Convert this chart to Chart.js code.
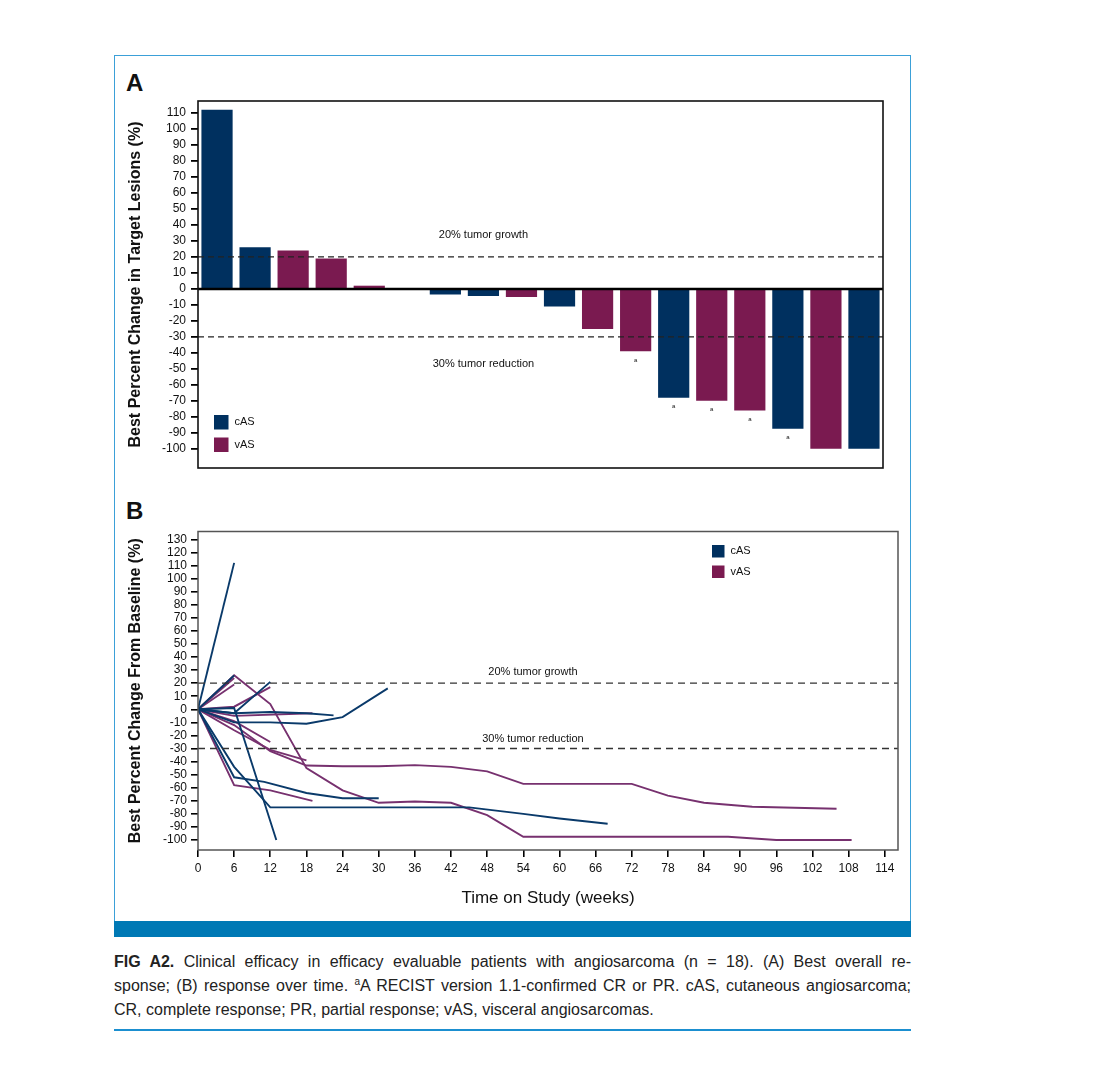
<!DOCTYPE html>
<html><head><meta charset="utf-8">
<script src="https://cdn.jsdelivr.net/npm/chart.js@4.4.1/dist/chart.umd.min.js"></script>
<style>
html,body{margin:0;padding:0;background:#fff;}
body{width:1106px;height:1076px;position:relative;overflow:hidden;font-family:"Liberation Sans",Arial,sans-serif;color:#111;}
.abs{position:absolute;}
#frame{left:114px;top:55px;width:797px;height:866px;border:1px solid #3ba0d8;border-bottom:none;box-sizing:border-box;}
#band{left:114px;top:921px;width:797px;height:16px;background:#0079b5;}
#rule{left:114px;top:1029px;width:797px;height:2px;background:#1b8fd0;}
.panel{font-weight:bold;font-size:24px;line-height:24px;}
#wrapA{left:120px;top:95px;width:770px;height:380px;}
#wrapB{left:120px;top:525px;width:790px;height:392px;}
#caption{left:114px;top:950px;width:797px;font-family:"Liberation Sans",Arial,sans-serif;font-size:16px;line-height:24px;color:#222;}
#caption .ln{white-space:nowrap;text-align:justify;text-align-last:justify;}
#caption .last{white-space:nowrap;}
</style></head>
<body>
<div id="frame" class="abs"></div>
<div id="band" class="abs"></div>
<div class="abs panel" style="left:126px;top:71px;">A</div>
<div class="abs panel" style="left:126px;top:499px;">B</div>
<div id="wrapA" class="abs"><canvas id="chartA"></canvas></div>
<div id="wrapB" class="abs"><canvas id="chartB"></canvas></div>
<div id="caption" class="abs">
<div class="ln"><b>FIG A2.</b> Clinical efficacy in efficacy evaluable patients with angiosarcoma (n = 18). (A) Best overall re-</div>
<div class="ln">sponse; (B) response over time. <sup style="font-size:10px;line-height:0">a</sup>A RECIST version 1.1-confirmed CR or PR. cAS, cutaneous angiosarcoma;</div>
<div class="last">CR, complete response; PR, partial response; vAS, visceral angiosarcomas.</div>
</div>
<div id="rule" class="abs"></div>
<script>
// ---------- Panel A data ----------
const patients = ['1','2','3','4','5','6','7','8','9','10','11','12','13','14','15','16','17','18'];
const bestChange = [112, 26, 24, 19, 2, 0, -3.5, -4.5, -5, -11, -25, -39, -68, -70, -76, -87.5, -100, -100];
const subtype = ['cAS','cAS','vAS','vAS','vAS','vAS','cAS','cAS','vAS','cAS','vAS','vAS','cAS','vAS','vAS','cAS','vAS','cAS'];
const confirmed = [false,false,false,false,false,false,false,false,false,false,false,true,true,true,true,true,false,false];
const yTicksA = [-100,-90,-80,-70,-60,-50,-40,-30,-20,-10,0,10,20,30,40,50,60,70,80,90,100,110];
const thresholds = [20, -30];
const thresholdLabels = ['20% tumor growth', '30% tumor reduction'];

// ---------- Panel B data (weeks, percent change) ----------
const cAS_1 = [[0,0],[6,112]];
const cAS_2 = [[0,0],[6,26]];
const cAS_3 = [[0,0],[6,-3],[12,21]];
const cAS_4 = [[0,0],[6,-3],[12,-2],[18,-3],[22.5,-4.6]];
const cAS_5 = [[0,0],[6,-10],[12,-10],[18,-11],[24,-6],[31.5,16]];
const cAS_6 = [[0,0],[6,-44],[12,-75],[18,-75],[24,-75],[30,-75],[36,-75],[42,-75],[45,-75],[54,-80],[60,-83.5],[68,-87.5]];
const cAS_7 = [[0,0],[6,-52],[11,-55.5],[18,-64],[24,-68],[30,-68]];
const cAS_8 = [[0,0],[6,1],[13,-100]];
const vAS_1 = [[0,0],[6,26],[12,4],[18,-45],[24,-62],[30,-71.5],[36,-70.5],[42,-71.5],[48,-81],[54,-97.5],[88,-97.5],[96,-100],[108.5,-100]];
const vAS_2 = [[0,0],[6,-12],[12,-32],[18,-43],[24,-43.5],[30,-43.5],[36,-42.7],[42,-44],[48,-47.5],[54,-57],[72,-57],[78,-66],[84,-71.5],[92,-74.5],[106,-76]];
const vAS_3 = [[0,0],[6,-58],[12,-62],[19,-70]];
const vAS_4 = [[0,0],[6,-16],[12,-31],[18,-39]];
const vAS_5 = [[0,0],[6,-9],[12,-25]];
const vAS_6 = [[0,0],[6,-5],[19,-3]];
const vAS_7 = [[0,0],[6,2],[12,17]];
const vAS_8 = [[0,0],[6,24]];
const vAS_9 = [[0,0],[6,19]];
const weekTicks = [0,6,12,18,24,30,36,42,48,54,60,66,72,78,84,90,96,102,108,114];
const yTicksB = [-100,-90,-80,-70,-60,-50,-40,-30,-20,-10,0,10,20,30,40,50,60,70,80,90,100,110,120,130];

const casLines = [cAS_1,cAS_2,cAS_3,cAS_4,cAS_5,cAS_6,cAS_7,cAS_8];
const vasLines = [vAS_1,vAS_2,vAS_3,vAS_4,vAS_5,vAS_6,vAS_7,vAS_8,vAS_9];

const COL = {cAS:'#00305f', vAS:'#7a1a50'};
const LINECOL = {cAS:'#0a3a6a', vAS:'#77316f'};
const FONT = '"Liberation Sans", Arial, sans-serif';

function legendDraw(ctx, x0, y0, gap, box, fontSize, cols){
  ['cAS','vAS'].forEach((k,i)=>{
    ctx.fillStyle = cols[k];
    ctx.fillRect(x0, y0 + i*gap, box, box);
    ctx.fillStyle = '#111';
    ctx.font = fontSize + 'px ' + FONT;
    ctx.textAlign = 'left'; ctx.textBaseline = 'middle';
    ctx.fillText(k, x0 + box + 6, y0 + i*gap + box/2);
  });
}
function noPad(s){ s.paddingTop = 0; s.paddingBottom = 0; s.paddingLeft = 0; s.paddingRight = 0; }

// ---------- Chart A ----------
const overlayA = {
  id:'overlayA',
  afterDatasetsDraw(chart){
    const {ctx, chartArea:a, scales:{x,y}} = chart;
    ctx.save();
    ctx.setLineDash([6,4]); ctx.lineWidth = 1.4; ctx.strokeStyle = '#222';
    thresholds.forEach(v=>{const py=y.getPixelForValue(v); ctx.beginPath(); ctx.moveTo(a.left,py); ctx.lineTo(a.right,py); ctx.stroke();});
    ctx.setLineDash([]);
    const y0 = y.getPixelForValue(0);
    ctx.lineWidth = 2.5; ctx.strokeStyle = '#000';
    ctx.beginPath(); ctx.moveTo(a.left,y0); ctx.lineTo(a.right,y0); ctx.stroke();
    ctx.lineWidth = 1.6; ctx.strokeStyle = '#111';
    ctx.strokeRect(a.left,a.top,a.right-a.left,a.bottom-a.top);
    ctx.fillStyle = '#111'; ctx.font = '11px ' + FONT; ctx.textAlign='center'; ctx.textBaseline='middle';
    const cx = x.getPixelForValue(7);
    ctx.fillText(thresholdLabels[0], cx, y.getPixelForValue(33.6));
    ctx.fillText(thresholdLabels[1], cx, y.getPixelForValue(-47));
    ctx.font = '6px ' + FONT; ctx.textBaseline='top';
    confirmed.forEach((c,i)=>{ if(c){ ctx.fillText('a', x.getPixelForValue(i), y.getPixelForValue(bestChange[i]) + 6); } });
    legendDraw(ctx, a.left + 16, a.bottom - 53, 22.5, 14.5, 11, COL);
    ctx.restore();
  }
};

new Chart(document.getElementById('chartA'), {
  type:'bar',
  data:{
    labels: patients,
    datasets:['cAS','vAS'].map(k=>({
      label:k,
      data: bestChange.map((v,i)=> subtype[i]===k ? v : null),
      backgroundColor: COL[k],
      borderWidth:0,
      grouped:false,
      categoryPercentage:1,
      barPercentage:0.82
    }))
  },
  options:{
    responsive:true, maintainAspectRatio:false, animation:false,
    layout:{padding:{left:0, top:6, right:7, bottom:7}},
    plugins:{legend:{display:false}, tooltip:{enabled:false}},
    scales:{
      x:{display:false, offset:true},
      y:{
        min:-112, max:117.5,
        afterBuildTicks: s => { s.ticks = yTicksA.map(v=>({value:v})); },
        afterFit: s => { s.width = 78; noPad(s); },
        grid:{drawOnChartArea:false, tickLength:7, color:'#000', lineWidth:1.8},
        border:{display:false},
        ticks:{color:'#111', font:{family:FONT, size:12}, padding:5, autoSkip:false},
        title:{display:true, text:'Best Percent Change in Target Lesions (%)', color:'#111', font:{family:FONT, size:16, weight:'bold'}, padding:{top:6.4, bottom:0}}
      }
    }
  },
  plugins:[overlayA]
});

// ---------- Chart B ----------
const overlayB = {
  id:'overlayB',
  afterDatasetsDraw(chart){
    const {ctx, chartArea:a, scales:{x,y}} = chart;
    ctx.save();
    ctx.setLineDash([7,5]); ctx.lineWidth = 1.4; ctx.strokeStyle = '#333';
    thresholds.forEach(v=>{const py=y.getPixelForValue(v); ctx.beginPath(); ctx.moveTo(a.left,py); ctx.lineTo(a.right,py); ctx.stroke();});
    ctx.setLineDash([]);
    ctx.lineWidth = 1.5; ctx.strokeStyle = '#555';
    ctx.strokeRect(a.left,a.top,a.right-a.left,a.bottom-a.top);
    ctx.fillStyle = '#111'; ctx.font = '11px ' + FONT; ctx.textAlign='center'; ctx.textBaseline='middle';
    const cx = x.getPixelForValue(55.6);
    ctx.fillText(thresholdLabels[0], cx, y.getPixelForValue(28.6));
    ctx.fillText(thresholdLabels[1], cx, y.getPixelForValue(-23));
    legendDraw(ctx, a.left + 514, a.top + 13.5, 20.5, 12.5, 11, COL);
    ctx.restore();
  }
};

const lineDatasets = [];
casLines.forEach((pts,i)=>lineDatasets.push({label:'cAS '+(i+1), data:pts.map(p=>({x:p[0],y:p[1]})), borderColor:LINECOL.cAS}));
vasLines.forEach((pts,i)=>lineDatasets.push({label:'vAS '+(i+1), data:pts.map(p=>({x:p[0],y:p[1]})), borderColor:LINECOL.vAS}));
lineDatasets.forEach(d=>{ d.borderWidth=1.9; d.pointRadius=0; d.fill=false; d.tension=0; });

new Chart(document.getElementById('chartB'), {
  type:'line',
  data:{datasets: lineDatasets},
  options:{
    responsive:true, maintainAspectRatio:false, animation:false,
    layout:{padding:{left:0, top:6.5, right:12, bottom:0}},
    plugins:{legend:{display:false}, tooltip:{enabled:false}},
    scales:{
      x:{
        type:'linear', min:0, max:116.2,
        afterBuildTicks: s => { s.ticks = weekTicks.map(v=>({value:v})); },
        afterFit: s => { s.height = 67; noPad(s); },
        grid:{drawOnChartArea:false, tickLength:7, color:'#000', lineWidth:1.6},
        border:{display:false},
        ticks:{color:'#111', font:{family:FONT, size:12}, padding:4, autoSkip:false, maxRotation:0},
        title:{display:true, text:'Time on Study (weeks)', color:'#111', font:{family:FONT, size:17}, padding:{top:0, bottom:8.8}}
      },
      y:{
        min:-107.6, max:136,
        afterBuildTicks: s => { s.ticks = yTicksB.map(v=>({value:v})); },
        afterFit: s => { s.width = 78; noPad(s); },
        grid:{drawOnChartArea:false, tickLength:7, color:'#000', lineWidth:1.6},
        border:{display:false},
        ticks:{color:'#111', font:{family:FONT, size:12}, padding:4, autoSkip:false},
        title:{display:true, text:'Best Percent Change From Baseline (%)', color:'#111', font:{family:FONT, size:16, weight:'bold'}, padding:{top:6.4, bottom:0}}
      }
    }
  },
  plugins:[overlayB]
});
</script>
</body></html>
